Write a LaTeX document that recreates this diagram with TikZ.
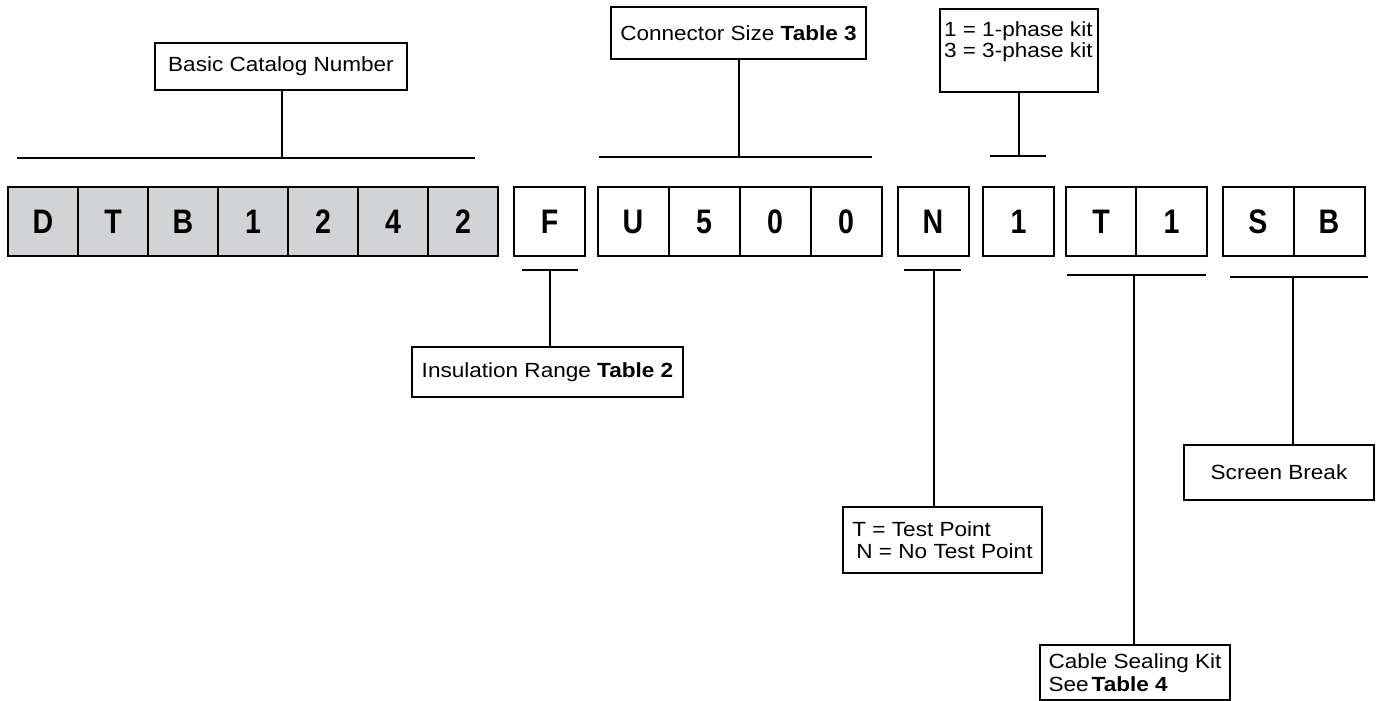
\documentclass[tikz,border=0pt]{standalone}
\usepackage{fontspec}
\setmainfont{Liberation Sans}[FakeStretch=1.1]
\newfontfamily\cellfont{Liberation Sans}[FakeStretch=0.84]
\definecolor{cellgray}{RGB}{209,211,212}

\begin{document}
\begin{tikzpicture}[x=1pt, y=-1pt]
	\tikzset{gc/.style={rectangle, draw=black, line width=2pt, fill=cellgray, minimum width=70pt, minimum height=69pt, inner sep=0pt, font=\cellfont\bfseries\fontsize{34}{36}\selectfont}};
	\tikzset{wc/.style={gc, fill=white, minimum width=71pt}};
	\tikzset{lb/.style={rectangle, draw=black, line width=1.2pt, inner sep=0pt, font=\fontsize{20.5}{22}\selectfont}};
	\tikzset{br/.style={line width=2pt}};

	\useasboundingbox (0,0) rectangle (1376,701);

	% catalog number cells
	\node[gc] (d) at (43,221.5) {D};
	\node[gc] (t) at (113,221.5) {T};
	\node[gc] (b) at (183,221.5) {B};
	\node[gc] (g1) at (253,221.5) {1};
	\node[gc] (g2) at (323,221.5) {2};
	\node[gc] (g4) at (393,221.5) {4};
	\node[gc] (g5) at (463,221.5) {2};
	\node[wc] (f) at (549.5,221.5) {F};
	\node[wc] (u) at (633,221.5) {U};
	\node[wc] (c5) at (704,221.5) {5};
	\node[wc] (c0) at (775,221.5) {0};
	\node[wc] (c00) at (846,221.5) {0};
	\node[wc] (n) at (933,221.5) {N};
	\node[wc] (p1) at (1018.5,221.5) {1};
	\node[wc] (k1) at (1101,221.5) {T};
	\node[wc] (k2) at (1171.5,221.5) {1};
	\node[wc] (s1) at (1258,221.5) {S};
	\node[wc] (s2) at (1329,221.5) {B};

	% labels
	\node[lb, minimum width=252pt, minimum height=47pt] (basic) at (281,66.5) {Basic Catalog Number};
	\node[lb, minimum width=255pt, minimum height=52pt] (conn) at (738.5,33) {Connector Size \textbf{Table 3}};
	\node[lb, minimum width=158pt, minimum height=83pt] (phase) at (1019,50.5) {\parbox[t][75pt][t]{150pt}{\fontsize{20.5}{19}\selectfont\rule{0pt}{24pt}1 = 1-phase kit\\3 = 3-phase kit}};
	\node[lb, minimum width=271pt, minimum height=50pt] (ins) at (547.5,372) {Insulation Range \textbf{Table 2}};
	\node[lb, align=left, minimum width=199pt, minimum height=66pt] (test) at (942.5,540) {T = Test Point\\\hspace{4pt}N = No Test Point};
	\node[lb, align=left, minimum width=190pt, minimum height=55pt, font=\fontsize{20.5}{23}\selectfont] (cable) at (1135,672.5) {Cable Sealing Kit\\See\hspace{3pt}\textbf{Table 4}};
	\node[lb, minimum width=190pt, minimum height=55pt] (screen) at (1279,472.5) {Screen Break};

	% bars
	\coordinate (ba) at (17,158);
	\coordinate (bb) at (475,158);
	\coordinate (bm) at (282,158);
	\coordinate (ca) at (599,157);
	\coordinate (cb) at (872,157);
	\coordinate (cm) at (739,157);
	\coordinate (pa) at (990,156);
	\coordinate (pb) at (1046,156);
	\coordinate (pm) at (1019,156);
	\coordinate (fa) at (522,270);
	\coordinate (fb) at (578,270);
	\coordinate (fm) at (550,270);
	\coordinate (na) at (904,270);
	\coordinate (nb) at (961,270);
	\coordinate (nm) at (934,270);
	\coordinate (ka) at (1067,275);
	\coordinate (kb) at (1206,275);
	\coordinate (km) at (1134,275);
	\coordinate (sa) at (1230,277);
	\coordinate (sb) at (1368,277);
	\coordinate (sm) at (1293,277);

	\draw[br] (ba) to (bb);
	\draw[br] (basic.south -| bm) to (bm);
	\draw[br] (ca) to (cb);
	\draw[br] (conn.south -| cm) to (cm);
	\draw[br] (pa) to (pb);
	\draw[br] (phase.south -| pm) to (pm);
	\draw[br] (fa) to (fb);
	\draw[br] (fm) to (fm |- ins.north);
	\draw[br] (na) to (nb);
	\draw[br] (nm) to (nm |- test.north);
	\draw[br] (ka) to (kb);
	\draw[br] (km) to (km |- cable.north);
	\draw[br] (sa) to (sb);
	\draw[br] (sm) to (sm |- screen.north);

\end{tikzpicture}
\end{document}
